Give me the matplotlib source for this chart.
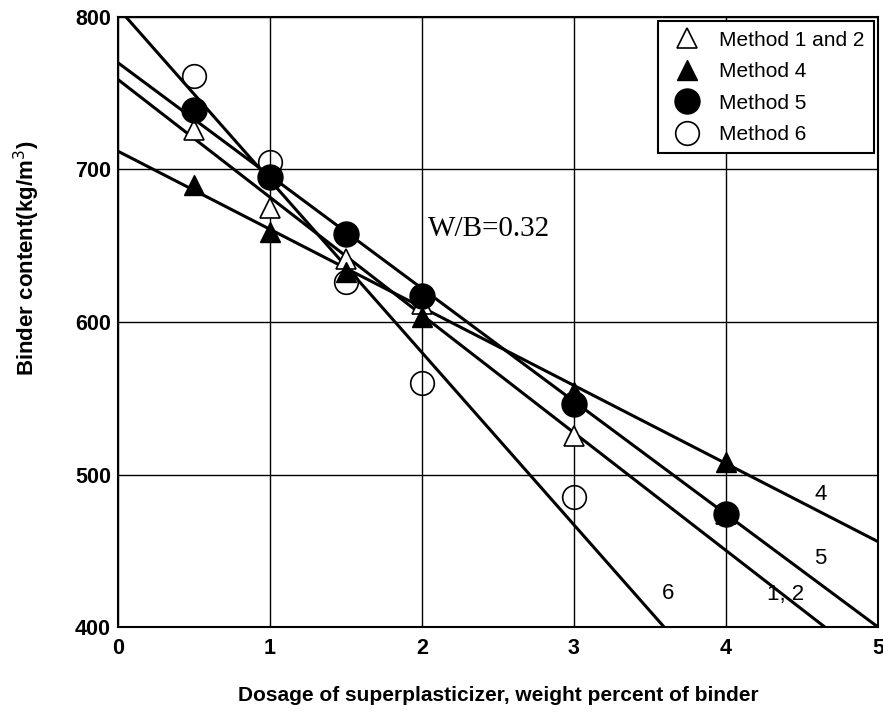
import numpy as np
import matplotlib.pyplot as plt

plt.rcParams['font.family'] = ['Liberation Sans', 'DejaVu Sans']

# dosage of superplasticizer (% of binder)
dosage = [0.5, 1.0, 1.5, 2.0, 3.0, 4.0]

# measured binder content (kg/m3)
m12_x = [0.5, 1.0, 1.5, 2.0, 3.0, 4.0]
m12_y = [726, 675, 641, 612, 525, 474]
m4_x = [0.5, 1.0, 1.5, 2.0, 3.0, 4.0]
m4_y = [690, 659, 633, 603, 554, 508]
m5_x = [0.5, 1.0, 1.5, 2.0, 3.0, 4.0]
m5_y = [739, 695, 658, 617, 546, 474]
m6_x = [0.5, 1.0, 1.5, 2.0, 3.0]
m6_y = [761, 705, 626, 560, 485]

# fitted lines: (start x, end x, intercept, slope)
fit_labels = ['4', '5', '1, 2', '6']
fit_start = [0.0, 0.0, 0.0, 0.05]
fit_end = [5.0, 5.0, 4.66, 3.6]
fit_icpt = [712, 770, 759, 806]
fit_slope = [-51.2, -74.0, -77.2, -113.0]

fig = plt.figure(figsize=(8.83, 7.17), dpi=100)
ax = fig.add_axes([0.1336, 0.1255, 0.8607, 0.8508])

for x0, x1, b, m in zip(fit_start, fit_end, fit_icpt, fit_slope):
    xs = np.array([x0, x1])
    ax.plot(xs, b + m * xs, color='black', lw=2.2, zorder=2)

ax.plot(m12_x, m12_y, ls='none', marker='^', ms=15, mfc='white', mec='black', mew=1.2,
        zorder=3, label='Method 1 and 2')
ax.plot(m4_x, m4_y, ls='none', marker='^', ms=15, mfc='black', mec='black',
        zorder=4, label='Method 4')
ax.plot(m5_x, m5_y, ls='none', marker='o', ms=18, mfc='black', mec='black',
        zorder=5, label='Method 5')
ax.plot(m6_x, m6_y, ls='none', marker='o', ms=17, mfc='none', mec='black', mew=1.2,
        zorder=3, label='Method 6')

ax.set_xlim(0, 5)
ax.set_ylim(400, 800)
ax.set_xticks([0, 1, 2, 3, 4, 5])
ax.set_yticks([400, 500, 600, 700, 800])
ax.grid(True, color='black', lw=1.0)
ax.set_axisbelow(True)
ax.tick_params(axis='x', length=0, labelsize=15.5, pad=8)
ax.tick_params(axis='y', length=0, labelsize=15.5, pad=5)
for lab in ax.get_xticklabels() + ax.get_yticklabels():
    lab.set_fontweight('bold')
for sp in ax.spines.values():
    sp.set_linewidth(1.5)

ax.text(2.04, 661, 'W/B=0.32', family='Liberation Serif', fontsize=21, va='center')
label_pos = [(4.62, 487), (4.62, 445), (4.39, 421), (3.62, 422)]
for t, (lx, ly) in zip(fit_labels, label_pos):
    ax.text(lx, ly, t, fontsize=16, ha='center', va='center')

leg = ax.legend(loc='upper right', frameon=True, fancybox=False, edgecolor='black',
                fontsize=15, borderaxespad=0.2, handletextpad=0.6, labelspacing=0.6,
                markerscale=1.0, borderpad=0.45, handlelength=1.9)
leg.get_frame().set_linewidth(1.5)
leg.get_frame().set_alpha(1)

ax.set_ylabel('Binder content(kg/m$^3$)', fontsize=16, fontweight='bold')
ax.yaxis.set_label_coords(-0.1, 0.605)
ax.set_xlabel('Dosage of superplasticizer, weight percent of binder', fontsize=15,
              fontweight='bold', labelpad=19)

fig.savefig('out.png', dpi=100)
